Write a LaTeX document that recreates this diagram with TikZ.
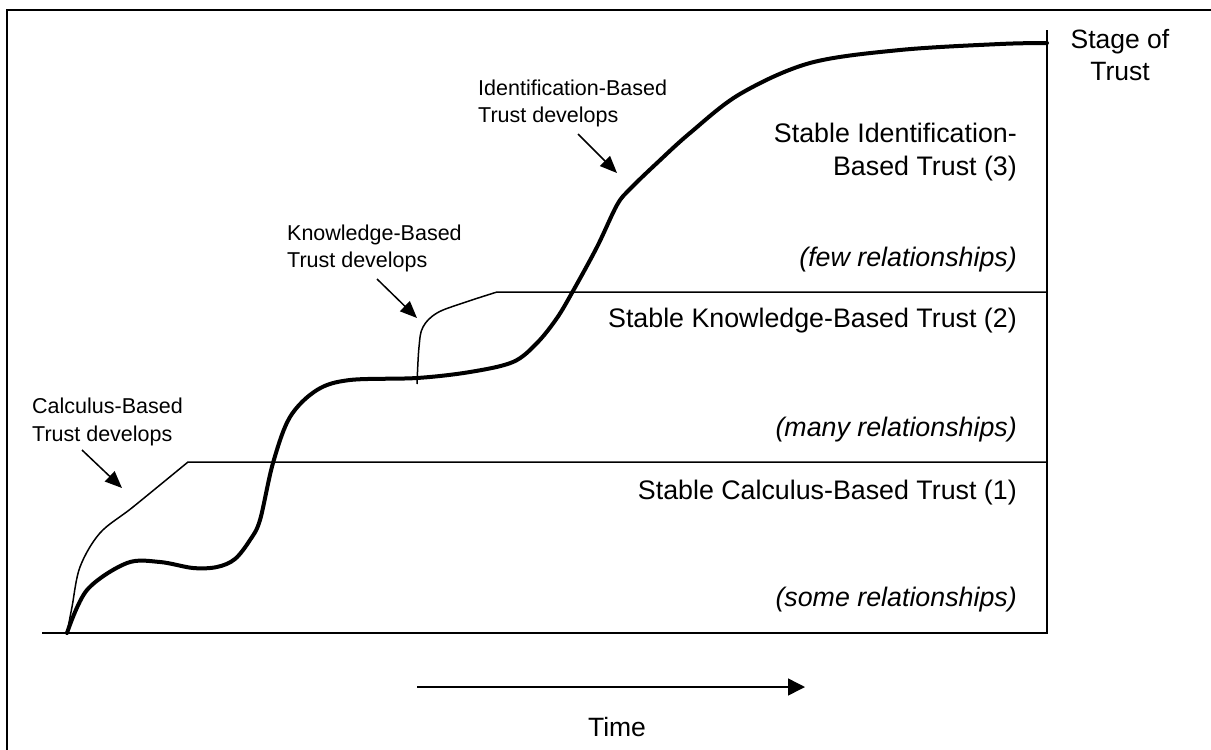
\documentclass[tikz,border=0pt]{standalone}
\usepackage{fontspec}
\setmainfont{Liberation Sans}
\usetikzlibrary{arrows.meta}
\begin{document}
\begin{tikzpicture}[x=1pt,y=-1pt,
  thinline/.style={line width=1.5pt},
  thickline/.style={line width=4pt,line cap=round,line join=round},
  pointer/.style={line width=1.5pt,-{Triangle[length=17pt,width=14pt]}},
  smalllabel/.style={inner sep=0pt,anchor=base west,font=\fontsize{21.5}{25}\selectfont},
  biglabel/.style={inner sep=0pt,anchor=base east,font=\fontsize{26.8}{31}\selectfont},
  bigitalic/.style={biglabel,font=\fontsize{26.8}{31}\selectfont\itshape},
  axislabel/.style={inner sep=0pt,anchor=base,font=\fontsize{26.5}{31}\selectfont}]
\useasboundingbox (0,0) rectangle (1211,750);
\fill[white] (0,0) rectangle (1211,750);

% frame
\draw[line width=1.6pt] (7,750) -- (7,10) -- (1211,10);

% axes: time base line and the right stage axis
\coordinate (origin) at (67,633);
\coordinate (baseL) at (42,633);
\coordinate (baseR) at (1047,633);
\coordinate (axisTop) at (1047,30);
\draw[thinline] (baseL) -- (baseR) -- (axisTop);

% stable calculus-based trust
\coordinate (calcEnd) at (188,462);
\coordinate (calcR) at (1047,462);
\draw[thinline] plot[smooth,tension=0.55] coordinates
  {(origin) (72,607) (80,567) (100,533) (133,507) (calcEnd)} -- (calcR);

% stable knowledge-based trust
\coordinate (knowStart) at (417,384);
\coordinate (knowEnd) at (497,292);
\coordinate (knowR) at (1047,292);
\draw[thinline] plot[smooth,tension=0.6] coordinates
  {(knowStart) (419,347) (423,327) (437,313) (463,303) (knowEnd)} -- (knowR);

% overall trust development curve
\coordinate (curveEnd) at (1047,43);
\draw[thickline] plot[smooth,tension=0.55] coordinates
  {(origin) (87,590) (127,563) (160,562) (193,568) (217,567) (235,559)
   (250,540) (260,520) (273,463) (290,417) (317,390) (350,380) (417,378)
   (470,372) (513,362) (537,343) (557,318) (573,291) (597,247) (617,205)
   (630,189) (657,163) (690,133) (740,94) (810,63) (900,50) (1000,44) (curveEnd)};

% pointers to the development phases
\coordinate (calcTail) at (82,450);
\coordinate (calcTip) at (122,488);
\coordinate (knowTail) at (377,279);
\coordinate (knowTip) at (417,318);
\coordinate (identTail) at (578,134);
\coordinate (identTip) at (617,173);
\draw[pointer] (calcTail) -- (calcTip);
\draw[pointer] (knowTail) -- (knowTip);
\draw[pointer] (identTail) -- (identTip);

% phase labels
\node[smalllabel] (calcA) at (32,413) {Calculus-Based};
\node[smalllabel] (calcB) at (32,441) {Trust develops};
\node[smalllabel] (knowA) at (287,240) {Knowledge-Based};
\node[smalllabel] (knowB) at (287,267) {Trust develops};
\node[smalllabel] (identA) at (478,95) {Identification-Based};
\node[smalllabel] (identB) at (478,122) {Trust develops};

% stage labels
\node[biglabel] (s3a) at (1017,142) {Stable Identification-};
\node[biglabel] (s3b) at (1017,175) {Based Trust (3)};
\node[bigitalic] (s3c) at (1017,266) {(few relationships)};
\node[biglabel] (s2a) at (1017,327) {Stable Knowledge-Based Trust (2)};
\node[bigitalic] (s2c) at (1017,436) {(many relationships)};
\node[biglabel] (s1a) at (1017,499) {Stable Calculus-Based Trust (1)};
\node[bigitalic] (s1c) at (1017,606) {(some relationships)};

% axis labels
\node[axislabel] (stageA) at (1120,48) {Stage of};
\node[axislabel] (stageB) at (1120,80) {Trust};
\coordinate (timeTail) at (417,687);
\coordinate (timeTip) at (805,687);
\draw[line width=1.5pt,-{Triangle[length=17pt,width=17pt]}] (timeTail) -- (timeTip);
\node[axislabel] (time) at (617,736) {Time};
\end{tikzpicture}
\end{document}
